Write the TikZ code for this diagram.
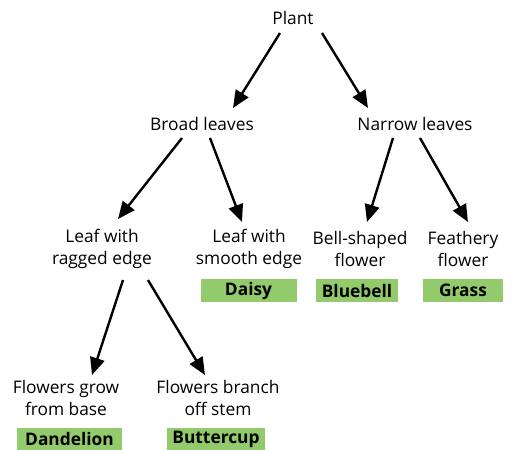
\documentclass[tikz,border=0pt]{standalone}
\usepackage{fontspec}
\setmainfont{Open Sans}
\usepackage{xcolor}
\usetikzlibrary{arrows.meta,calc}

\definecolor{leafgreen}{RGB}{146,202,108}

\begin{document}
\begin{tikzpicture}[
  x=0.75pt, y=-0.75pt,
  txt/.style={align=center, inner sep=0pt, font=\fontsize{13}{17}\selectfont},
  answer/.style={fill=leafgreen, inner sep=0pt, minimum height=17pt, font=\fontsize{13}{15}\selectfont\bfseries},
  arr/.style={-{Triangle[length=13pt,width=11pt]}, line width=1.8pt}
]
  \useasboundingbox (0,0) rectangle (515,450);
  % questions
  \node[txt] (plant) at (293,18) {Plant};
  \node[txt] (broad) at (202,124) {Broad leaves};
  \node[txt] (narrow) at (415,124) {Narrow leaves};
  \node[txt] (ragged) at (102,249) {Leaf with\\ragged edge};
  \node[txt] (smooth) at (249,249) {Leaf with\\smooth edge};
  \node[txt] (bell) at (360,249) {Bell-shaped\\flower};
  \node[txt] (feather) at (463,249) {Feathery\\flower};
  \node[txt] (base) at (66,398) {Flowers grow\\from base};
  \node[txt] (stem) at (218,398) {Flowers branch\\off stem};
  % answers
  \node[answer, minimum width=72pt] (daisy) at (248.5,290.5) {Daisy};
  \node[answer, minimum width=61pt] (bluebell) at (357,290.5) {Bluebell};
  \node[answer, minimum width=60pt] (grass) at (463,290.5) {Grass};
  \node[answer, minimum width=79pt] (dandelion) at (69.5,439) {Dandelion};
  \node[answer, minimum width=73pt] (buttercup) at (216,439) {Buttercup};
  % arrows
  \draw[arr] ($(plant)+(-13,15)$) -- ($(broad)+(31,-16)$);
  \draw[arr] ($(plant)+(29,15)$) -- ($(narrow)+(-47,-16)$);
  \draw[arr] ($(broad)+(-20,14)$) -- ($(ragged)+(16,-30)$);
  \draw[arr] ($(broad)+(8,14)$) -- ($(smooth)+(-7,-27)$);
  \draw[arr] ($(narrow)+(-22,14)$) -- ($(bell)+(7,-27)$);
  \draw[arr] ($(narrow)+(5,14)$) -- ($(feather)+(5,-27)$);
  \draw[arr] ($(ragged)+(21,31)$) -- ($(base)+(26,-23)$);
  \draw[arr] ($(ragged)+(46,31)$) -- ($(stem)+(-13,-23)$);
\end{tikzpicture}
\end{document}
